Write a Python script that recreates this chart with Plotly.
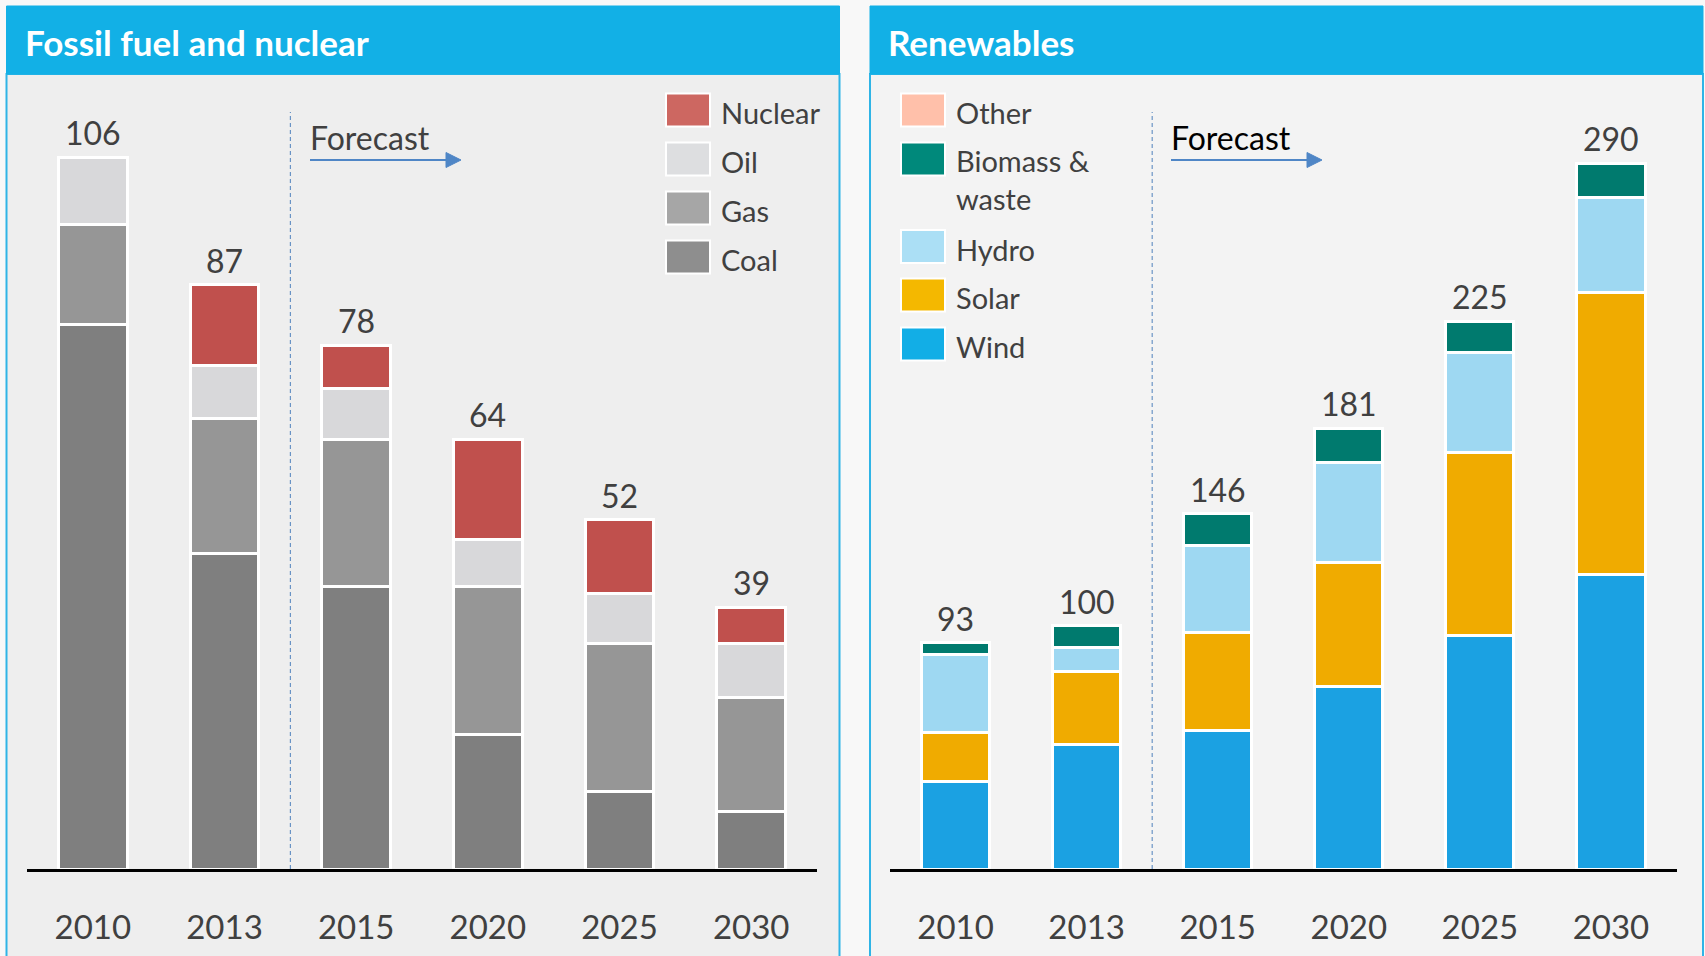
import plotly.graph_objects as go

# ---------------- data ----------------
years = ["2010", "2013", "2015", "2020", "2025", "2030"]

# Fossil fuel and nuclear (stack order bottom -> top)
coal = [81, 47, 42, 20, 11.5, 8.5]
gas = [15, 20, 22, 22, 22, 17]
oil = [10, 8, 7.5, 7, 7.5, 8]
nuclear = [0, 12, 6.5, 15, 11, 5.5]
fossil_totals = [106, 87, 78, 64, 52, 39]

# Renewables (stack order bottom -> top)
wind = [36, 51, 57, 75, 96, 121]
solar = [20, 30, 40, 51, 75, 116]
hydro = [32, 10, 36, 41, 41, 39]
biomass = [5, 9, 13, 14, 13, 14]
other = [0, 0, 0, 0, 0, 0]
renew_totals = [93, 100, 146, 181, 225, 290]

fossil_names = ["Coal", "Gas", "Oil", "Nuclear"]
fossil_values = [coal, gas, oil, nuclear]
renew_names = ["Wind", "Solar", "Hydro", "Biomass &<br>waste", "Other"]
renew_values = [wind, solar, hydro, biomass, other]

panel_titles = ["Fossil fuel and nuclear", "Renewables"]
forecast_label = "Forecast"

# ---------------- styles ----------------
W, H = 1705, 956
FONT = "Lato"
TXT = "#404040"
fossil_colors = ["#7f7f7f", "#969696", "#d8d8da", "#c0504d"]
fossil_legend_colors = ["#8e8e8e", "#a6a6a6", "#dddee0", "#cd6761"]
renew_colors = ["#1ba1e2", "#f0ab00", "#9ed8f2", "#007a6e", "#ffc0aa"]
renew_legend_colors = ["#12aee6", "#f4b800", "#abdff5", "#00897b", "#ffc0aa"]

pos = list(range(len(years)))  # category positions on the axis


def px(x):
    return x / W


def py(y):
    return 1 - y / H


fig = go.Figure()

for name, vals, col in zip(fossil_names, fossil_values, fossil_colors):
    fig.add_trace(go.Bar(x=pos, y=vals, name=name, marker=dict(color=col, line=dict(color="white", width=3)),
                         width=0.52, xaxis="x", yaxis="y", showlegend=False))
for name, vals, col in zip(renew_names, renew_values, renew_colors):
    fig.add_trace(go.Bar(x=pos, y=vals, name=name, marker=dict(color=col, line=dict(color="white", width=3)),
                         width=0.52, xaxis="x2", yaxis="y2", showlegend=False))

shapes = []
annotations = []

# panels
panels = [(6.5, 839.5, "#eeeeee"), (870, 1703, "#f3f3f3")]
for (x0, x1, bg), title in zip(panels, panel_titles):
    shapes.append(dict(type="rect", xref="paper", yref="paper", x0=px(x0), x1=px(x1), y0=py(1000), y1=py(74),
                       fillcolor=bg, line=dict(color="#2fb4e6", width=2), layer="below"))
    shapes.append(dict(type="rect", xref="paper", yref="paper", x0=px(x0), x1=px(x1), y0=py(74), y1=py(6),
                       fillcolor="#12b0e6", line=dict(color="#12b0e6", width=1), layer="below"))
    annotations.append(dict(text=title, xref="paper", yref="paper", x=px(x0 + 16), y=py(42), xanchor="left",
                            yanchor="middle", showarrow=False,
                            font=dict(family=FONT, size=35, color="white", weight="bold")))

# forecast separators, labels and arrows
for xr, xstart, fcol in [("x", 310, TXT), ("x2", 1171, "#000000")]:
    shapes.append(dict(type="line", xref=xr, yref="paper", x0=1.5, x1=1.5, y0=py(869), y1=py(112),
                       line=dict(color="#4f81bd", width=1, dash="4px,3px"), layer="below"))
    annotations.append(dict(text=forecast_label, xref="paper", yref="paper", x=px(xstart - 2), y=py(137),
                            xanchor="left", yanchor="middle", showarrow=False,
                            font=dict(family=FONT, size=32, color=fcol)))
    shapes.append(dict(type="line", xref="paper", yref="paper", x0=px(xstart), x1=px(xstart + 137),
                       y0=py(160), y1=py(160), line=dict(color="#4f86c6", width=2)))
    hx = xstart + 136
    shapes.append(dict(type="path", xref="paper", yref="paper",
                       path=f"M {px(hx)},{py(152.5)} L {px(hx + 15)},{py(160)} L {px(hx)},{py(167.5)} Z",
                       fillcolor="#4f86c6", line=dict(color="#4f86c6", width=1)))

# totals
for xr, yr, tots in [("x", "y", fossil_totals), ("x2", "y2", renew_totals)]:
    for p, t in zip(pos, tots):
        annotations.append(dict(text=str(t), x=p, y=t, xref=xr, yref=yr, showarrow=False,
                                yanchor="bottom", yshift=3, font=dict(family=FONT, size=32, color=TXT)))

# legends (custom)
fossil_leg_order = [3, 2, 1, 0]
leg_tops = [93.5, 142.5, 191.5, 240.5]
for i, top in zip(fossil_leg_order, leg_tops):
    shapes.append(dict(type="rect", xref="paper", yref="paper", x0=px(666), x1=px(710), y0=py(top + 33), y1=py(top),
                       fillcolor=fossil_legend_colors[i], line=dict(color="white", width=2)))
    annotations.append(dict(text=fossil_names[i], xref="paper", yref="paper", x=px(719), y=py(top + 19),
                            xanchor="left", yanchor="middle", showarrow=False,
                            font=dict(family=FONT, size=29, color=TXT)))

renew_leg_order = [4, 3, 2, 1, 0]
renew_tops = [93.5, 142.5, 230, 278.5, 327.5]
for i, top in zip(renew_leg_order, renew_tops):
    shapes.append(dict(type="rect", xref="paper", yref="paper", x0=px(901), x1=px(945), y0=py(top + 33), y1=py(top),
                       fillcolor=renew_legend_colors[i], line=dict(color="white", width=2)))
    two = "<br>" in renew_names[i]
    annotations.append(dict(text=renew_names[i], xref="paper", yref="paper", x=px(954),
                            y=py(top + 19 + (18 if two else 0)), xanchor="left", yanchor="middle",
                            align="left", showarrow=False, font=dict(family=FONT, size=29, color=TXT)))

axis_common = dict(type="linear", range=[-0.5, 5.5], tickmode="array", tickvals=pos, ticktext=years,
                   showgrid=False, zeroline=False, showline=True, linecolor="#000000", automargin=False,
                   linewidth=3, ticks="", tickfont=dict(family=FONT, size=33, color=TXT), ticklabelstandoff=27,
                   fixedrange=True)
yaxis_common = dict(visible=False, showgrid=False, zeroline=False, fixedrange=True, automargin=False)

fig.update_layout(
    width=W, height=H, margin=dict(l=0, r=0, t=0, b=0, autoexpand=False),
    paper_bgcolor="#f8f8f8", plot_bgcolor="rgba(0,0,0,0)",
    barmode="stack", showlegend=False,
    xaxis=dict(domain=[px(27), px(817)], anchor="y", **axis_common),
    xaxis2=dict(domain=[px(890), px(1676.5)], anchor="y2", **axis_common),
    yaxis=dict(domain=[py(869), py(100)], range=[0, 769 / 6.717], anchor="x", **yaxis_common),
    yaxis2=dict(domain=[py(869), py(100)], range=[0, 769 / 2.434], anchor="x2", **yaxis_common),
    shapes=shapes, annotations=annotations,
    font=dict(family=FONT, color=TXT),
)

fig.write_html("out.html", config={"displayModeBar": False},
               post_script="document.body.style.margin='0';document.body.style.overflow='hidden';")
